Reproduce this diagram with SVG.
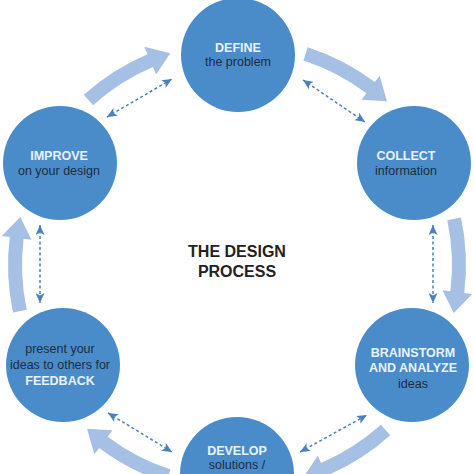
<svg xmlns="http://www.w3.org/2000/svg" width="474" height="474" viewBox="0 0 474 474">
<style>
.node{fill:#4a8cca}
.b{font-family:"Liberation Sans",Arial,sans-serif;font-weight:bold;font-size:12.5px;fill:#eaf2fb;text-anchor:middle}
.n{font-family:"Liberation Sans",Arial,sans-serif;font-size:12.5px;fill:#1d2c3f;text-anchor:middle}
.t{font-family:"Liberation Sans",Arial,sans-serif;font-weight:bold;font-size:16px;fill:#222;text-anchor:middle}
.big{fill:#a5c0e4}
.dash{stroke:#4a80c0;stroke-width:1.5;stroke-dasharray:3 2.5;fill:none;marker-start:url(#ah);marker-end:url(#ah)}
</style>
<defs>
<marker id="ah" markerUnits="userSpaceOnUse" markerWidth="10" markerHeight="9" refX="10" refY="4.5" orient="auto-start-reverse">
<path d="M0,0 L10,4.5 L0,9 L2.5,4.5 Z" fill="#4a80c0"/>
</marker>
<path id="bigarrow" d="M 460.99 217.39 A 229 229 0 0 1 464.29 292.91 L 472.23 293.88 L 453.74 313.05 L 442.46 290.23 L 450.40 291.20 A 215 215 0 0 0 447.29 220.30 Z"/>
</defs>
<rect width="474" height="474" fill="#fff"/>
<g id="connectors">
<use href="#bigarrow" class="big"/>
<use href="#bigarrow" class="big" transform="rotate(60 237 265)"/>
<use href="#bigarrow" class="big" transform="rotate(120 237 265)"/>
<use href="#bigarrow" class="big" transform="rotate(180 237 265)"/>
<use href="#bigarrow" class="big" transform="rotate(240 237 265)"/>
<use href="#bigarrow" class="big" transform="rotate(300 237 265)"/>
<line class="dash" x1="303" y1="80" x2="365" y2="122"/>
<line class="dash" x1="107" y1="117" x2="172" y2="79"/>
<line class="dash" x1="433" y1="225" x2="433" y2="303"/>
<line class="dash" x1="40" y1="225" x2="40" y2="303"/>
<line class="dash" x1="108" y1="413" x2="172" y2="452"/>
<line class="dash" x1="300" y1="452" x2="367" y2="415"/>
</g>
<g id="define">
<circle class="node" cx="238" cy="55" r="57"/>
<text class="b" x="238" y="52">DEFINE</text>
<text class="n" x="238" y="66">the problem</text>
</g>
<g id="collect">
<circle class="node" cx="414" cy="163" r="57"/>
<text class="b" x="406" y="160">COLLECT</text>
<text class="n" x="406" y="175">information</text>
</g>
<g id="brainstorm">
<circle class="node" cx="412" cy="365" r="57"/>
<text class="b" x="413" y="357">BRAINSTORM</text>
<text class="b" x="413" y="372">AND ANALYZE</text>
<text class="n" x="413" y="388">ideas</text>
</g>
<g id="develop">
<circle class="node" cx="237" cy="474" r="57"/>
<text class="b" x="237" y="455">DEVELOP</text>
<text class="n" x="237" y="469">solutions /</text>
</g>
<g id="feedback">
<circle class="node" cx="63" cy="365" r="57"/>
<text class="n" x="60" y="353">present your</text>
<text class="n" x="60" y="369">ideas to others for</text>
<text class="b" x="60" y="385">FEEDBACK</text>
</g>
<g id="improve">
<circle class="node" cx="60" cy="163" r="57"/>
<text class="b" x="59" y="160">IMPROVE</text>
<text class="n" x="59" y="175">on your design</text>
</g>
<g id="title">
<text class="t" x="237" y="257">THE DESIGN</text>
<text class="t" x="237" y="277">PROCESS</text>
</g>
</svg>
